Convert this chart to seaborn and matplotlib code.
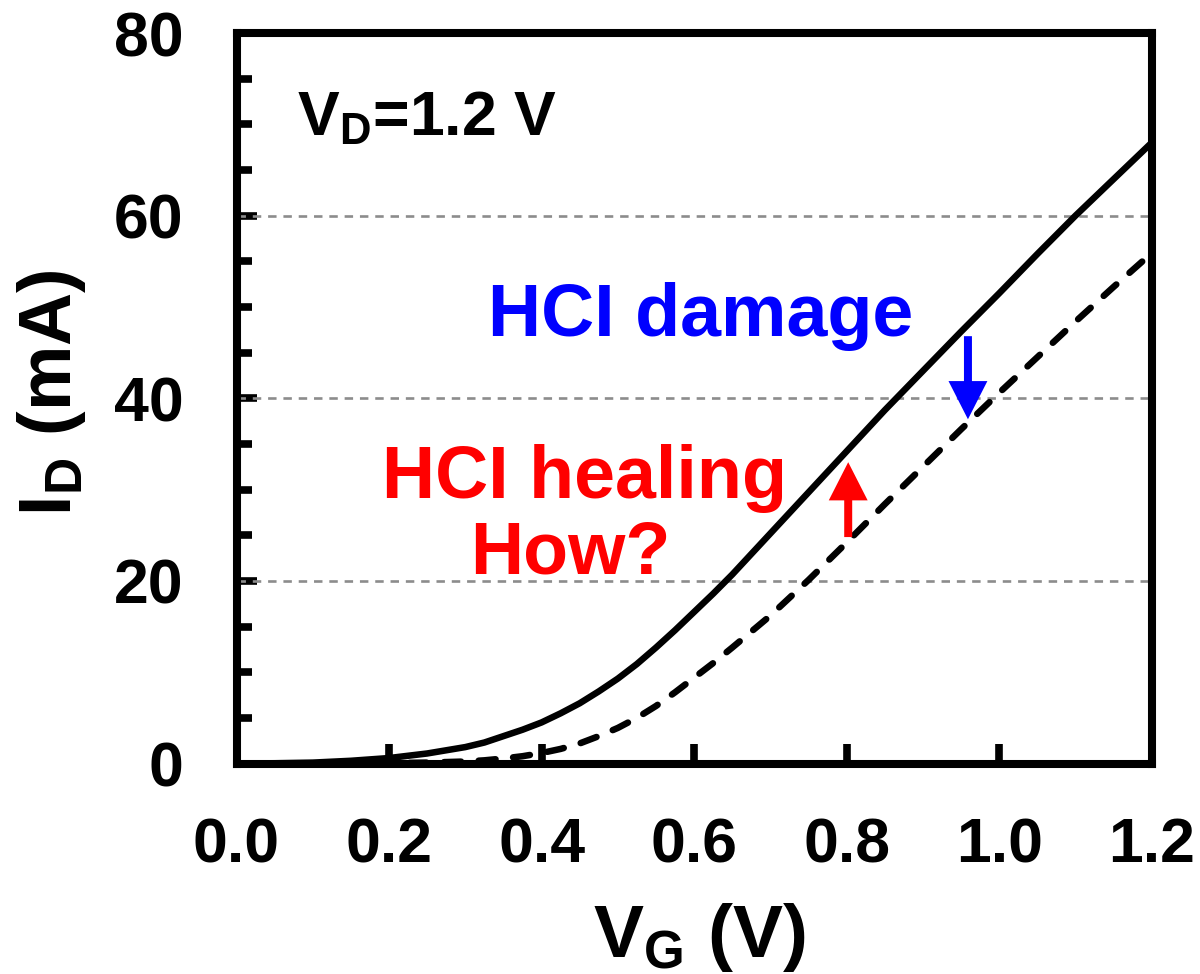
import matplotlib
matplotlib.use("Agg")
import matplotlib.pyplot as plt
import numpy as np
import pandas as pd
import seaborn as sns
from matplotlib.ticker import MultipleLocator

# ---- data ----
vg = [0.00, 0.05, 0.10, 0.15, 0.20, 0.25, 0.30, 0.325, 0.35, 0.375, 0.40, 0.425,
      0.45, 0.475, 0.50, 0.525, 0.55, 0.575, 0.60, 0.625, 0.65, 0.70, 0.75, 0.80,
      0.85, 0.90, 0.95, 1.00, 1.05, 1.10, 1.15, 1.20]
id_fresh = [0.0, 0.03, 0.1, 0.3, 0.6, 1.1, 1.8, 2.3, 3.0, 3.7, 4.5, 5.5,
            6.6, 7.9, 9.3, 10.9, 12.7, 14.6, 16.6, 18.6, 20.7, 25.2, 29.7, 34.2,
            38.7, 43.0, 47.3, 51.5, 55.8, 60.0, 64.0, 68.0]
id_hci = [0.0, 0.0, 0.01, 0.02, 0.05, 0.1, 0.22, 0.35, 0.55, 0.8, 1.15, 1.6,
          2.2, 3.0, 3.9, 5.0, 6.3, 7.8, 9.4, 11.0, 12.7, 16.2, 20.1, 24.2,
          28.4, 32.5, 36.6, 40.6, 44.5, 48.4, 52.2, 55.9]

x_ticks = [0.0, 0.2, 0.4, 0.6, 0.8, 1.0, 1.2]
x_tick_labels = ["0.0", "0.2", "0.4", "0.6", "0.8", "1.0", "1.2"]
y_ticks = [0, 20, 40, 60, 80]
y_tick_labels = ["0", "20", "40", "60", "80"]
grid_levels = [20, 40, 60]

# arrows (x, tail, head) in data units
heal_arrow = (0.802, 24.8, 33.0)
damage_arrow = (0.959, 46.8, 37.7)

# ---- style ----
sns.set_theme(style="white")
plt.rcParams["font.family"] = ["Liberation Sans", "DejaVu Sans"]
plt.rcParams["font.weight"] = "bold"
plt.rcParams["mathtext.fontset"] = "custom"
plt.rcParams["mathtext.rm"] = "Liberation Sans:bold"
plt.rcParams["mathtext.it"] = "Liberation Sans:bold"
plt.rcParams["mathtext.bf"] = "Liberation Sans:bold"
plt.rcParams["axes.labelcolor"] = "black"
plt.rcParams["text.color"] = "black"

fig = plt.figure(figsize=(12, 9.74), dpi=100)
ax = fig.add_axes([0.1971, 0.2161, 0.7627, 0.75])

df_fresh = pd.DataFrame({"VG": vg, "ID": id_fresh})
df_hci = pd.DataFrame({"VG": vg, "ID": id_hci})

sns.lineplot(data=df_fresh, x="VG", y="ID", ax=ax, color="black", zorder=3)
sns.lineplot(data=df_hci, x="VG", y="ID", ax=ax, color="black", zorder=3)
l_fresh, l_hci = ax.lines[-2], ax.lines[-1]
l_fresh.set_linewidth(4.7)
l_fresh.set_solid_capstyle("round")
l_fresh.set_solid_joinstyle("round")
l_hci.set_linewidth(4.7)
l_hci.set_linestyle((0, (2.6, 2.7)))
l_hci.set_dash_capstyle("round")
l_hci.set_dash_joinstyle("round")

for g in grid_levels:
    ax.axhline(g, color="#8c8c8c", lw=1.9, ls=(0, (3.2, 2.6)), zorder=1)

ax.set_xlim(0, 1.2)
ax.set_ylim(0, 80)
ax.set_xticks(x_ticks, x_tick_labels)
ax.set_yticks(y_ticks, y_tick_labels)
ax.yaxis.set_minor_locator(MultipleLocator(5))

for s in ax.spines.values():
    s.set_visible(True)
    s.set_linewidth(5.8)
    s.set_color("black")
    s.set_capstyle("projecting")
    s.set_zorder(4)

ax.tick_params(axis="both", which="major", direction="in", length=14.5, width=5.5,
               color="black", labelsize=45, pad=38, labelcolor="black")
ax.tick_params(axis="y", which="minor", direction="in", length=11, width=5.5,
               color="black", left=True)
ax.tick_params(axis="x", which="minor", bottom=False)
ax.tick_params(top=False, right=False, bottom=True, left=True)
for lab in ax.get_xticklabels() + ax.get_yticklabels():
    lab.set_fontweight("bold")

ax.set_xlabel(r"$\mathrm{V_G}$ (V)", fontsize=54, fontweight="bold", color="black")
ax.set_ylabel(r"$\mathrm{I_D}$ (mA)", fontsize=53, fontweight="bold", color="black")
ax.xaxis.set_label_coords(0.5053, -0.188)
ax.yaxis.set_label_coords(-0.162, 0.508)

# annotations
ax.text(0.079, 68.8, r"$\mathrm{V_D}$=1.2 V", fontsize=45, fontweight="bold",
        ha="left", va="baseline", color="black")
ax.text(0.608, 46.8, "HCI damage", fontsize=53, fontweight="bold",
        ha="center", va="baseline", color="#0000ff")
ax.text(0.456, 29.06, "HCI healing", fontsize=53, fontweight="bold",
        ha="center", va="baseline", color="#ff0000")
ax.text(0.437, 20.8, "How?", fontsize=53, fontweight="bold",
        ha="center", va="baseline", color="#ff0000")

for (x, y0, y1), col in [(heal_arrow, "#ff0000"), (damage_arrow, "#0000ff")]:
    ax.annotate("", xy=(x, y1), xytext=(x, y0),
                arrowprops=dict(arrowstyle="simple,head_length=0.55,head_width=0.56,tail_width=0.115",
                                mutation_scale=50, color=col, lw=0,
                                shrinkA=0, shrinkB=0), zorder=5)

fig.savefig("out.png", dpi=100, facecolor="white")
